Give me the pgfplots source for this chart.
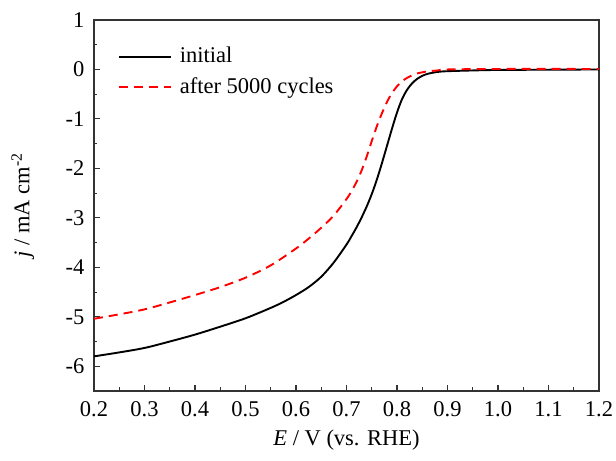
\documentclass[border=0pt]{standalone}
\usepackage{fontspec}
\setmainfont{Liberation Serif}
\usepackage{pgfplots}
\pgfplotsset{compat=1.18}

% legend sample: a 52pt stroke followed by a small gap before the text
\pgfplotsset{
  /pgfplots/legend image code/.code={%
    \draw[#1] (0pt,0pt) -- (52pt,0pt);
    \path (58pt,0pt);},
}

\begin{document}
\fontsize{22.5pt}{27pt}\selectfont
\begin{tikzpicture}
\begin{axis}[
  name=ax,
  scale only axis,
  width=505pt, height=371pt,
  xmin=0.2, xmax=1.2, ymin=-6.5, ymax=1,
  xtick={0.2,0.3,...,1.21}, ytick={-6,-5,...,1},
  minor x tick num=1, minor y tick num=1,
  tick align=inside, xtick pos=bottom, ytick pos=left,
  major tick length=6pt, minor tick length=3.5pt,
  axis line style={line width=1.2pt, black!80},
  every tick/.style={line width=1.1pt, black!80},
  /pgf/number format/assume math mode=true,
  xticklabel style={yshift=-3pt, /pgf/number format/fixed,
    /pgf/number format/fixed zerofill, /pgf/number format/precision=1},
  yticklabel style={xshift=-2pt},
  xlabel={\textit{E} / V (vs. RHE)},
  ylabel={\textit{j} / mA cm\textsuperscript{-2}},
  xlabel style={at={(axis description cs:0.5,-0.132)}, anchor=center},
  ylabel style={at={(axis description cs:-0.141,0.5)}, anchor=center},
  legend style={at={(axis description cs:0.045,0.935)}, anchor=north west,
    draw=none, fill=none, row sep=7pt, inner sep=1pt,
    font=\fontsize{22.5pt}{27pt}\selectfont},
  legend cell align=left,
]
\addplot[black, line width=1.9pt, smooth] coordinates {
  (0.20,-5.80) (0.25,-5.72) (0.30,-5.63) (0.35,-5.50) (0.40,-5.36)
  (0.45,-5.20) (0.50,-5.03) (0.55,-4.82) (0.575,-4.70) (0.60,-4.56)
  (0.625,-4.40) (0.65,-4.19) (0.675,-3.90) (0.70,-3.54) (0.71,-3.37)
  (0.72,-3.19) (0.73,-2.99) (0.74,-2.77) (0.75,-2.52) (0.76,-2.23)
  (0.77,-1.90) (0.78,-1.55) (0.79,-1.20) (0.80,-0.87) (0.81,-0.60)
  (0.82,-0.41) (0.83,-0.28) (0.84,-0.19) (0.85,-0.13) (0.86,-0.09)
  (0.88,-0.05) (0.90,-0.035) (0.95,-0.02) (1.00,-0.01) (1.10,-0.005)
  (1.20,0.00)
};
\addlegendentry{initial}
\addplot[red, line width=1.9pt, dash pattern=on 9pt off 6pt, smooth] coordinates {
  (0.20,-5.04) (0.25,-4.95) (0.30,-4.85) (0.35,-4.71) (0.40,-4.56)
  (0.45,-4.40) (0.50,-4.21) (0.55,-3.96) (0.60,-3.62) (0.625,-3.42)
  (0.65,-3.20) (0.675,-2.95) (0.70,-2.62) (0.71,-2.46) (0.72,-2.27)
  (0.73,-2.04) (0.74,-1.76) (0.75,-1.45) (0.76,-1.15) (0.77,-0.89)
  (0.78,-0.66) (0.79,-0.48) (0.80,-0.34) (0.81,-0.24) (0.82,-0.17)
  (0.83,-0.12) (0.84,-0.08) (0.86,-0.04) (0.88,-0.02) (0.90,0.00)
  (1.00,0.01) (1.20,0.01)
};
\addlegendentry{after 5000 cycles}
\end{axis}
\pgfresetboundingbox
\path[use as bounding box] ([shift={(-94pt,-70pt)}]ax.south west)
  rectangle ([shift={(17pt,20pt)}]ax.north east);
\end{tikzpicture}
\end{document}
